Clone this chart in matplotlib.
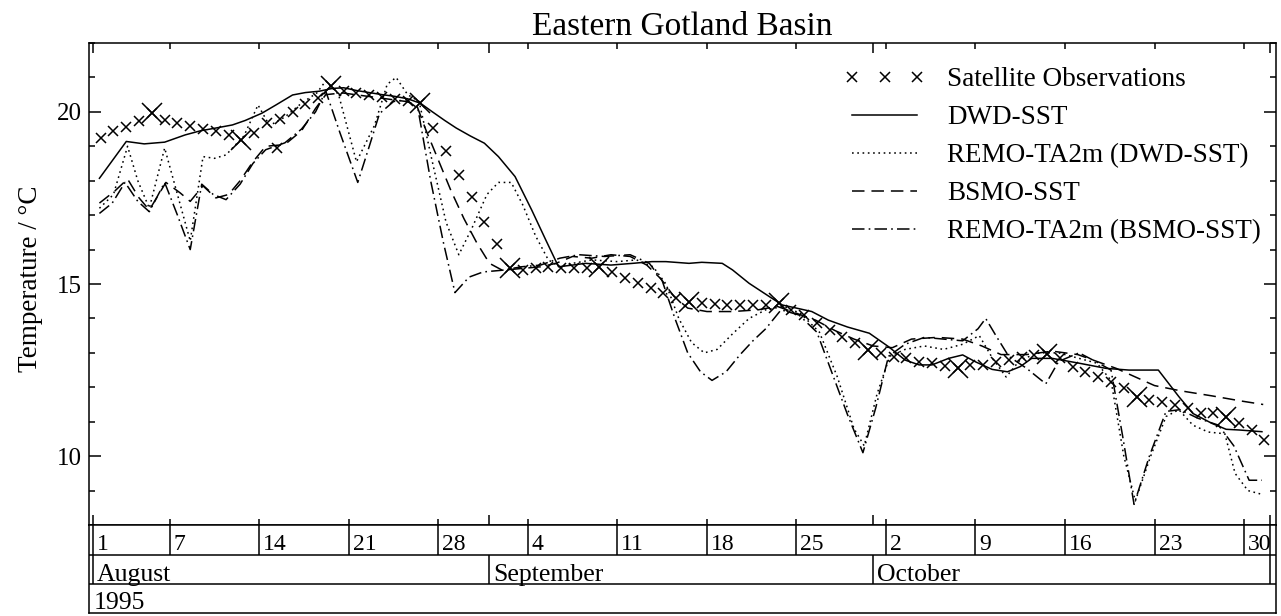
import matplotlib
matplotlib.use("Agg")
import matplotlib.pyplot as plt
import matplotlib.transforms as mtransforms
from matplotlib.ticker import MultipleLocator

plt.rcParams['font.family'] = ['Liberation Serif', 'DejaVu Serif']
plt.rcParams['lines.scale_dashes'] = False

# Time axis: days since 1 August 1995 (0 = Aug 1)
week_days = [0, 6, 13, 20, 27, 34, 41, 48, 55, 62, 69, 76, 83, 90]
week_labels = ['1', '7', '14', '21', '28', '4', '11', '18', '25', '2', '9', '16', '23', '30']
month_starts = [0, 31, 61, 92]
month_names = ['August', 'September', 'October']
year_label = '1995'

# Satellite observations (day, temperature in degC)
sat_obs = [
    (0.6, 19.24), (1.6, 19.43), (2.6, 19.55), (3.6, 19.72), (4.6, 19.96), (5.6, 19.77),
    (6.6, 19.67), (7.6, 19.59), (8.6, 19.50), (9.6, 19.43), (10.6, 19.33), (11.6, 19.19),
    (12.6, 19.38), (13.6, 19.67), (14.4, 18.94), (14.6, 19.79), (15.6, 20.01), (16.6, 20.23),
    (17.6, 20.40), (18.6, 20.75), (19.6, 20.62), (20.6, 20.56), (21.6, 20.50), (22.6, 20.44),
    (23.6, 20.38), (24.6, 20.32), (25.6, 20.25), (26.6, 19.53), (27.6, 18.85), (28.6, 18.17),
    (29.6, 17.52), (30.6, 16.81), (31.6, 16.16), (32.6, 15.46), (33.6, 15.41), (34.6, 15.46),
    (35.6, 15.50), (36.6, 15.46), (37.6, 15.46), (38.6, 15.46), (39.6, 15.50), (40.6, 15.36),
    (41.6, 15.17), (42.6, 15.02), (43.6, 14.87), (44.6, 14.73), (45.6, 14.58), (46.6, 14.49),
    (47.6, 14.44), (48.6, 14.41), (49.6, 14.40), (50.6, 14.40), (51.6, 14.40), (52.6, 14.40),
    (53.6, 14.44), (54.6, 14.24), (55.6, 14.10), (56.6, 13.86), (57.6, 13.66), (58.6, 13.47),
    (59.6, 13.28), (60.6, 13.08), (61.6, 12.99), (62.6, 12.89), (63.6, 12.84), (64.6, 12.74),
    (65.6, 12.70), (66.6, 12.62), (67.6, 12.55), (68.6, 12.65), (69.6, 12.65), (70.6, 12.74),
    (71.6, 12.79), (72.6, 12.89), (73.6, 12.94), (74.6, 12.98), (75.6, 12.84), (76.6, 12.60),
    (77.6, 12.45), (78.6, 12.31), (79.6, 12.16), (80.6, 11.97), (81.6, 11.73), (82.6, 11.63),
    (83.6, 11.58), (84.6, 11.48), (85.6, 11.39), (86.6, 11.24), (87.6, 11.24), (88.6, 11.15),
    (89.6, 10.95), (90.6, 10.76), (91.6, 10.47),
]

# DWD analysed sea surface temperature
dwd_sst = [
    (0.5, 18.07), (2.6, 19.14), (4.0, 19.07), (5.6, 19.12), (7.2, 19.33), (8.4, 19.45),
    (9.6, 19.53), (10.9, 19.62), (11.9, 19.75), (13.2, 19.96), (14.3, 20.20), (15.6, 20.49),
    (16.6, 20.56), (17.7, 20.60), (18.7, 20.68), (19.6, 20.70), (20.6, 20.62), (21.6, 20.56),
    (22.6, 20.50), (23.6, 20.45), (24.6, 20.38), (25.6, 20.25), (26.5, 20.01), (27.5, 19.75),
    (28.4, 19.53), (29.5, 19.30), (30.6, 19.09), (31.7, 18.70), (33.0, 18.12), (34.3, 17.15),
    (35.4, 16.28), (36.4, 15.50), (37.5, 15.55), (38.5, 15.60), (40.5, 15.55), (42.2, 15.60),
    (43.7, 15.65), (44.8, 15.65), (46.6, 15.60), (47.6, 15.63), (49.2, 15.60), (50.0, 15.41),
    (51.3, 15.02), (52.9, 14.63), (53.9, 14.39), (55.0, 14.30), (56.2, 14.20), (57.5, 13.95),
    (59.0, 13.75), (60.7, 13.57), (62.2, 13.18), (63.5, 12.79), (64.6, 12.65), (65.6, 12.65),
    (66.9, 12.84), (68.0, 12.94), (69.0, 12.74), (70.3, 12.52), (71.5, 12.45), (72.5, 12.60),
    (73.4, 12.84), (75.0, 12.84), (77.1, 12.70), (79.2, 12.55), (81.0, 12.50), (83.3, 12.50),
    (84.9, 11.73), (86.0, 11.24), (87.5, 10.95), (88.6, 10.78), (89.6, 10.76), (91.4, 10.71),
]

# REMO 2 m air temperature driven by DWD SST
remo_dwd = [
    (0.5, 17.20), (1.6, 17.60), (2.7, 19.00), (3.5, 18.00), (4.4, 17.20), (5.6, 18.95),
    (6.6, 17.60), (7.6, 16.25), (8.6, 18.70), (9.5, 18.65), (10.4, 18.75), (11.8, 19.30),
    (12.9, 20.20), (13.8, 19.60), (15.0, 19.85), (16.3, 20.25), (17.5, 20.55), (18.2, 20.90),
    (19.2, 20.50), (20.6, 18.55), (22.0, 19.60), (23.0, 20.80), (23.7, 21.00), (24.6, 20.50),
    (25.5, 20.30), (26.5, 18.60), (27.6, 16.80), (28.6, 15.85), (29.6, 16.60), (30.8, 17.60),
    (31.7, 17.95), (32.7, 17.95), (33.6, 17.30), (34.6, 16.40), (35.6, 15.70), (36.5, 15.50),
    (37.5, 15.60), (39.0, 15.70), (41.0, 15.65), (42.5, 15.70), (43.8, 15.50), (44.8, 15.00),
    (45.8, 14.00), (46.8, 13.30), (47.8, 13.00), (48.8, 13.10), (50.0, 13.55), (51.3, 14.00),
    (52.6, 14.25), (54.0, 14.35), (55.3, 14.15), (56.8, 13.60), (58.2, 12.30), (59.5, 10.80),
    (60.3, 10.30), (61.3, 11.80), (62.3, 12.90), (63.5, 13.10), (65.0, 13.20), (66.5, 13.10),
    (68.0, 13.25), (69.3, 13.50), (70.4, 12.80), (71.4, 12.30), (72.5, 12.80), (74.0, 13.00),
    (75.5, 13.00), (77.0, 12.85), (78.5, 12.70), (79.6, 12.20), (80.6, 10.00), (81.5, 8.70),
    (82.7, 10.00), (83.9, 11.15), (84.9, 11.35), (86.0, 10.90), (87.2, 10.70), (88.5, 10.65),
    (89.3, 9.50), (90.3, 9.00), (91.3, 8.90),
]

# BSMO modelled sea surface temperature
bsmo_sst = [
    (0.5, 17.35), (1.7, 17.70), (2.7, 18.05), (3.6, 17.50), (4.4, 17.15), (5.7, 17.95),
    (6.8, 17.65), (7.6, 17.40), (8.6, 17.85), (9.6, 17.50), (10.6, 17.60), (11.5, 18.00),
    (12.5, 18.55), (13.5, 19.00), (15.0, 19.05), (16.3, 19.45), (17.4, 20.10), (18.2, 20.50),
    (19.5, 20.55), (20.5, 20.50), (21.5, 20.45), (22.5, 20.40), (23.5, 20.35), (24.5, 20.30),
    (25.3, 20.20), (26.0, 19.50), (27.0, 18.60), (28.0, 17.70), (29.0, 16.90), (30.0, 16.20),
    (31.0, 15.60), (32.0, 15.40), (33.5, 15.45), (35.0, 15.50), (36.2, 15.60), (37.5, 15.80),
    (39.0, 15.75), (40.5, 15.85), (42.0, 15.80), (43.3, 15.55), (44.4, 15.15), (45.4, 14.65),
    (46.5, 14.30), (48.0, 14.20), (50.0, 14.20), (52.0, 14.25), (53.5, 14.35), (55.0, 14.15),
    (56.5, 13.95), (58.0, 13.65), (59.5, 13.40), (61.0, 13.20), (62.5, 13.15), (64.0, 13.40),
    (66.0, 13.45), (68.0, 13.40), (69.5, 13.20), (71.0, 12.95), (73.0, 12.95), (75.0, 13.05),
    (77.0, 12.95), (78.5, 12.75), (80.0, 12.55), (81.5, 12.30), (83.0, 12.05), (85.0, 11.90),
    (87.5, 11.75), (89.8, 11.60), (91.5, 11.50),
]

# REMO 2 m air temperature driven by BSMO SST
remo_bsmo = [
    (0.5, 17.05), (1.5, 17.35), (2.5, 17.95), (3.5, 17.40), (4.4, 17.10), (5.6, 17.95),
    (6.6, 17.00), (7.6, 16.00), (8.5, 17.90), (9.4, 17.60), (10.4, 17.45), (11.5, 17.90),
    (12.5, 18.50), (13.5, 18.90), (15.0, 19.10), (16.3, 19.50), (17.4, 20.00), (18.2, 20.60),
    (19.3, 19.40), (20.7, 17.95), (21.6, 19.00), (22.4, 19.95), (23.5, 20.30), (24.5, 20.35),
    (25.4, 20.10), (26.4, 18.00), (27.4, 16.20), (28.3, 14.75), (29.4, 15.20), (30.5, 15.35),
    (32.0, 15.40), (33.5, 15.50), (35.0, 15.55), (36.5, 15.75), (38.0, 15.85), (40.0, 15.80),
    (42.0, 15.85), (43.5, 15.60), (44.5, 15.10), (45.5, 14.00), (46.5, 13.00), (47.5, 12.45),
    (48.4, 12.20), (49.5, 12.45), (50.6, 12.95), (51.6, 13.35), (52.6, 13.70), (53.8, 14.25),
    (55.2, 14.10), (56.6, 13.60), (57.8, 12.40), (59.0, 11.20), (60.2, 10.10), (61.2, 11.40),
    (62.2, 12.90), (63.5, 13.25), (65.0, 13.45), (66.5, 13.40), (68.0, 13.35), (69.2, 13.70),
    (69.8, 14.00), (70.6, 13.50), (71.6, 12.90), (73.0, 12.55), (74.5, 12.10), (75.5, 12.75),
    (77.1, 13.00), (78.4, 12.75), (79.6, 12.50), (80.5, 10.60), (81.4, 8.60), (82.6, 10.00),
    (83.9, 11.30), (85.0, 11.35), (86.4, 11.10), (88.0, 10.90), (89.2, 10.30), (90.4, 9.30),
    (91.4, 9.30),
]


def split(pairs):
    return [p[0] for p in pairs], [p[1] for p in pairs]


W, H = 1281, 616
fig = plt.figure(figsize=(W / 100, H / 100), dpi=100)


def box(x0, y0, x1, y1):
    return [x0 / W, 1 - y1 / H, (x1 - x0) / W, (y1 - y0) / H]


ax = fig.add_axes(box(89.2, 43, 1276, 525))
dax = fig.add_axes(box(89.2, 525, 1276, 613))
xlim = (-0.3, 92.5)
lw = 1.1

# Series
sx, sy = split(sat_obs)
ax.plot(sx, sy, ls='none', marker='x', ms=7, mew=1.1, color='k',
        label='Satellite Observations', zorder=3)
# Weekly observations drawn with a larger cross
big = [(x, y) for x, y in sat_obs if abs(x - round(x - 0.6) - 0.6) < 1e-6
       and (round(x - 0.6) - 4) % 7 == 0]
bx, by = split(big)
ax.plot(bx, by, ls='none', marker='x', ms=15, mew=1.1, color='k', zorder=3)

x, y = split(dwd_sst)
ax.plot(x, y, color='k', lw=lw, ls='-', label='DWD-SST')
x, y = split(remo_dwd)
ax.plot(x, y, color='k', lw=lw, ls=(0, (1.2, 2.6)), label='REMO-TA2m (DWD-SST)')
x, y = split(bsmo_sst)
ax.plot(x, y, color='k', lw=lw, ls=(0, (9, 5)), label='BSMO-SST')
x, y = split(remo_bsmo)
ax.plot(x, y, color='k', lw=lw, ls=(0, (9, 3, 1.2, 3)), label='REMO-TA2m (BSMO-SST)')

# Axes styling
ax.set_xlim(*xlim)
ax.set_ylim(8, 22)
ax.set_xticks(month_starts)
ax.set_xticks(week_days, minor=True)
ax.tick_params(axis='x', which='both', direction='in', top=True, bottom=True,
               labelbottom=False, width=lw)
ax.tick_params(axis='x', which='major', length=7)
ax.tick_params(axis='x', which='minor', length=4)
ax.set_yticks([10, 15, 20])
ax.yaxis.set_minor_locator(MultipleLocator(1))
ax.tick_params(axis='y', which='both', direction='in', left=True, right=True,
               labelsize=18, pad=5, width=lw)
ax.tick_params(axis='y', which='major', length=8.5)
ax.tick_params(axis='y', which='minor', length=4)
for s in ax.spines.values():
    s.set_linewidth(lw)

ax.set_title('Eastern Gotland Basin', fontsize=24, pad=6)
ax.set_ylabel('Temperature / °C', fontsize=19.5)
ax.yaxis.set_label_coords(-0.039, 0.51)

leg = ax.legend(loc='upper left', bbox_to_anchor=(844 / W, 1 - 67 / H),
                bbox_transform=fig.transFigure, frameon=False, fontsize=19.5,
                numpoints=3, handlelength=3.0, handletextpad=0.8,
                labelspacing=0.48, borderpad=0, borderaxespad=0)

# Date table under the plot: days, months, year
dax.set_xlim(*xlim)
dax.set_ylim(0, 1)
dax.set_xticks([])
dax.set_yticks([])
for s in dax.spines.values():
    s.set_linewidth(lw)
row_day, row_month = 0.659, 0.330
dax.axhline(row_day, color='k', lw=lw)
dax.axhline(row_month, color='k', lw=lw)
dax.vlines(week_days + [month_starts[-1]], row_day, 1, color='k', lw=lw)
dax.vlines(month_starts, row_month, row_day, color='k', lw=lw)

shift = mtransforms.ScaledTranslation(4 / 100, 0, fig.dpi_scale_trans)
tr = mtransforms.blended_transform_factory(dax.transData, dax.transAxes) + shift
for d, lab in zip(week_days, week_labels):
    dax.text(d, 0.716, lab, transform=tr, fontsize=17, ha='left', va='baseline')
for d, name in zip(month_starts, month_names):
    dax.text(d, 0.364, name, transform=tr, fontsize=18.5, ha='left', va='baseline')
dax.text(0, 0.045, year_label, transform=dax.transAxes + shift, fontsize=18.5,
         ha='left', va='baseline')

fig.savefig('out.png', dpi=100)
